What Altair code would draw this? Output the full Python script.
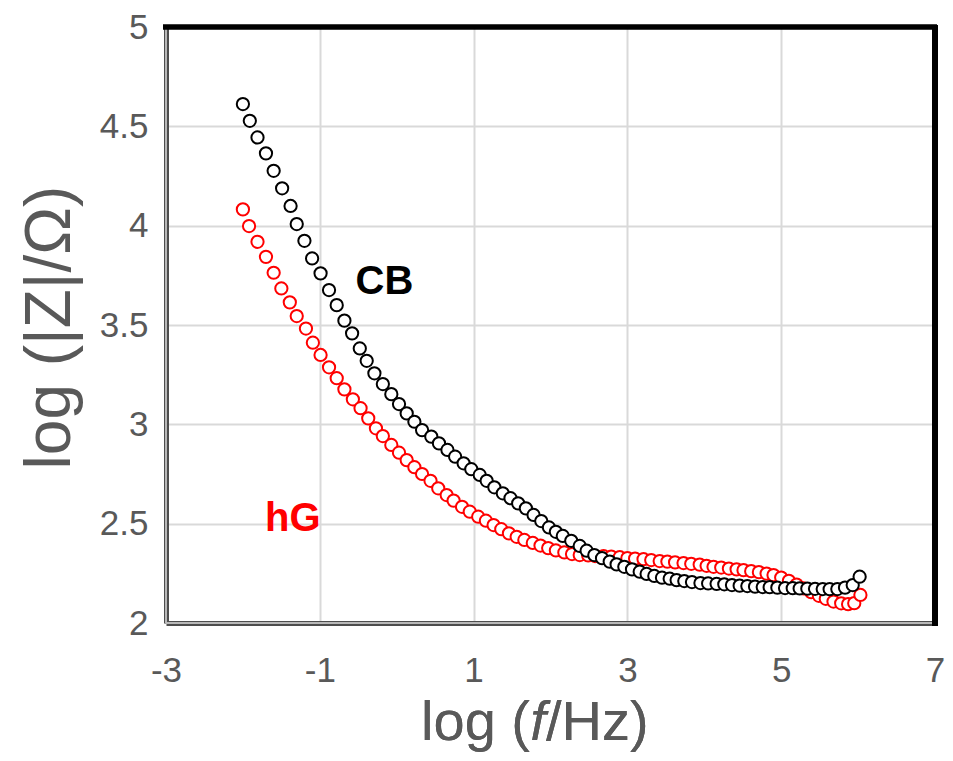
import altair as alt
import pandas as pd

# ---- data ----
cb_x = [-2.00, -1.91, -1.81, -1.70, -1.60, -1.49, -1.38, -1.30, -1.20, -1.10,
        -0.99, -0.88, -0.78, -0.68, -0.58, -0.48, -0.39, -0.29, -0.18, -0.07,
        0.03, 0.13, 0.23, 0.33, 0.45, 0.55, 0.66, 0.76, 0.87, 0.97,
        1.08, 1.17, 1.27, 1.38, 1.48, 1.58, 1.68, 1.78, 1.88, 1.98,
        2.07, 2.16, 2.27, 2.38, 2.47, 2.57, 2.67, 2.77, 2.86, 2.96,
        3.06, 3.16, 3.25, 3.35, 3.45, 3.55, 3.64, 3.74, 3.84, 3.95,
        4.05, 4.16, 4.26, 4.36, 4.46, 4.56, 4.66, 4.76, 4.85, 4.95,
        5.05, 5.15, 5.24, 5.34, 5.44, 5.54, 5.63, 5.73, 5.83, 5.93, 6.02]
cb_y = [4.612, 4.528, 4.444, 4.364, 4.276, 4.188, 4.099, 4.008, 3.924, 3.835,
        3.760, 3.676, 3.600, 3.522, 3.458, 3.382, 3.320, 3.257, 3.203, 3.152,
        3.102, 3.055, 3.013, 2.971, 2.938, 2.904, 2.871, 2.837, 2.804, 2.774,
        2.745, 2.716, 2.683, 2.653, 2.628, 2.602, 2.577, 2.544, 2.513, 2.481,
        2.459, 2.438, 2.414, 2.388, 2.364, 2.342, 2.326, 2.309, 2.295, 2.283,
        2.270, 2.258, 2.247, 2.237, 2.228, 2.223, 2.216, 2.211, 2.206, 2.201,
        2.199, 2.197, 2.195, 2.191, 2.188, 2.186, 2.183, 2.181, 2.180, 2.178,
        2.176, 2.175, 2.174, 2.173, 2.172, 2.171, 2.170, 2.171, 2.178, 2.191, 2.233]

hg_x = [-2.00, -1.92, -1.81, -1.70, -1.60, -1.50, -1.39, -1.30, -1.18, -1.09,
        -0.99, -0.88, -0.78, -0.68, -0.57, -0.47, -0.37, -0.27, -0.18, -0.07,
        0.03, 0.13, 0.23, 0.33, 0.44, 0.54, 0.65, 0.74, 0.85, 0.95,
        1.06, 1.16, 1.26, 1.36, 1.46, 1.56, 1.66, 1.77, 1.87, 1.97,
        2.07, 2.18, 2.28, 2.38, 2.49, 2.58, 2.69, 2.79, 2.90, 3.00,
        3.10, 3.21, 3.31, 3.42, 3.52, 3.62, 3.73, 3.83, 3.94,
        4.03, 4.12, 4.22, 4.32, 4.42, 4.51, 4.61, 4.71, 4.81, 4.90,
        5.00, 5.10, 5.20, 5.29, 5.39, 5.49, 5.58, 5.68, 5.78, 5.87, 5.95, 6.03]
hg_y = [4.082, 3.998, 3.919, 3.843, 3.763, 3.684, 3.614, 3.545, 3.482, 3.411,
        3.349, 3.287, 3.232, 3.176, 3.126, 3.081, 3.030, 2.980, 2.941, 2.896,
        2.857, 2.820, 2.784, 2.750, 2.716, 2.678, 2.644, 2.616, 2.585, 2.560,
        2.535, 2.515, 2.493, 2.472, 2.451, 2.434, 2.418, 2.403, 2.390, 2.377,
        2.365, 2.355, 2.347, 2.342, 2.340, 2.337, 2.336, 2.334, 2.331, 2.327,
        2.324, 2.321, 2.317, 2.312, 2.309, 2.305, 2.302, 2.298, 2.294,
        2.288, 2.283, 2.279, 2.274, 2.270, 2.266, 2.261, 2.256, 2.249, 2.241,
        2.229, 2.212, 2.193, 2.174, 2.155, 2.137, 2.122, 2.108, 2.099, 2.095, 2.100, 2.141]

x_ticks = [-3, -1, 1, 3, 5, 7]
y_ticks = [2, 2.5, 3, 3.5, 4, 4.5, 5]

labels = ["CB", "hG"]
label_x = [-0.16, -1.35]
label_y = [3.714, 2.523]
label_color = ["#000000", "#ff0000"]

W, H = 769, 596
FONT = "Liberation Sans"
GRAY = "#595959"

cb = pd.DataFrame({"x": cb_x, "y": cb_y})
hg = pd.DataFrame({"x": hg_x, "y": hg_y})
lab = pd.DataFrame({"x": label_x, "y": label_y, "t": labels, "c": label_color})

xscale = alt.Scale(domain=[-3, 7], nice=False, zero=False)
yscale = alt.Scale(domain=[2, 5], nice=False, zero=False)

xaxis = alt.Axis(values=x_ticks, labelExpr="'' + datum.value", title=None,
                 grid=True, gridColor="#d9d9d9", gridWidth=2, ticks=False,
                 domain=True, domainColor="#4d4d4d", domainWidth=5,
                 labelFlush=False, labelOverlap=False, labelBound=False,
                 labelFont=FONT, labelFontSize=35, labelColor=GRAY, labelPadding=30)
yaxis = alt.Axis(values=y_ticks, labelExpr="'' + datum.value",
                 title="log (|Z|/Ω)", titleFont=FONT, titleFontSize=64,
                 titleFontWeight="normal", titleColor=GRAY,
                 titleX=-116, titleY=300, titleAngle=-90, titleAlign="center",
                 titleBaseline="middle",
                 grid=True, gridColor="#d9d9d9", gridWidth=2, ticks=False,
                 domain=True, domainColor="#4d4d4d", domainWidth=5,
                 labelFlush=False, labelOverlap=False, labelBound=False,
                 labelFont=FONT, labelFontSize=35, labelColor=GRAY, labelPadding=18)

base_x = alt.X("x:Q", scale=xscale, axis=xaxis)
base_y = alt.Y("y:Q", scale=yscale, axis=yaxis)

red_pts = alt.Chart(hg).mark_point(shape="circle", filled=True, fill="white",
                                   stroke="#ff0000", strokeWidth=2, size=150,
                                   opacity=1).encode(x=base_x, y=base_y)
blk_pts = alt.Chart(cb).mark_point(shape="circle", filled=True, fill="white",
                                   stroke="#000000", strokeWidth=2, size=150,
                                   opacity=1).encode(x="x:Q", y="y:Q")

txt = alt.Chart(lab).mark_text(font=FONT, fontSize=40, fontWeight="bold",
                               baseline="middle", align="center").encode(
    x="x:Q", y="y:Q", text="t:N", color=alt.Color("c:N", scale=None))

# light core of the left / bottom frame lines
left_core = alt.Chart(lab).mark_rule(color="#bfbfbf", strokeWidth=1.5).encode(
    x=alt.value(0), y=alt.value(0), y2=alt.value(H))
bottom_core = alt.Chart(lab).mark_rule(color="#bfbfbf", strokeWidth=1.5).encode(
    x=alt.value(0), x2=alt.value(W), y=alt.value(H))
top_line = alt.Chart(lab).mark_rule(color="#000000", strokeWidth=5).encode(
    x=alt.value(-3), x2=alt.value(W + 2), y=alt.value(0))
right_line = alt.Chart(lab).mark_rule(color="#000000", strokeWidth=6).encode(
    x=alt.value(W), y=alt.value(-2), y2=alt.value(H + 3))

# x-axis title with italic f
FS = 56
cx = 372
ty = 713
t1 = alt.Chart(lab).mark_text(text="log (", font=FONT, fontSize=FS, color=GRAY,
                              align="right", baseline="alphabetic").encode(
    x=alt.value(cx - 8), y=alt.value(ty))
t2 = alt.Chart(lab).mark_text(text="f", font=FONT, fontSize=FS, color=GRAY,
                              fontStyle="italic", align="center",
                              baseline="alphabetic").encode(
    x=alt.value(cx), y=alt.value(ty))
t3 = alt.Chart(lab).mark_text(text="/Hz)", font=FONT, fontSize=FS, color=GRAY,
                              align="left", baseline="alphabetic").encode(
    x=alt.value(cx + 8), y=alt.value(ty))

chart = alt.layer(red_pts, blk_pts, txt, left_core, bottom_core, top_line,
                  right_line, t1, t2, t3).properties(
    width=W, height=H,
    autosize=alt.AutoSizeParams(type="none"),
    padding={"left": 158, "top": 19, "right": 10, "bottom": 137},
).configure_view(stroke=None).configure(background="white")

chart.save("out.html", embed_options={"renderer": "svg", "actions": False})
